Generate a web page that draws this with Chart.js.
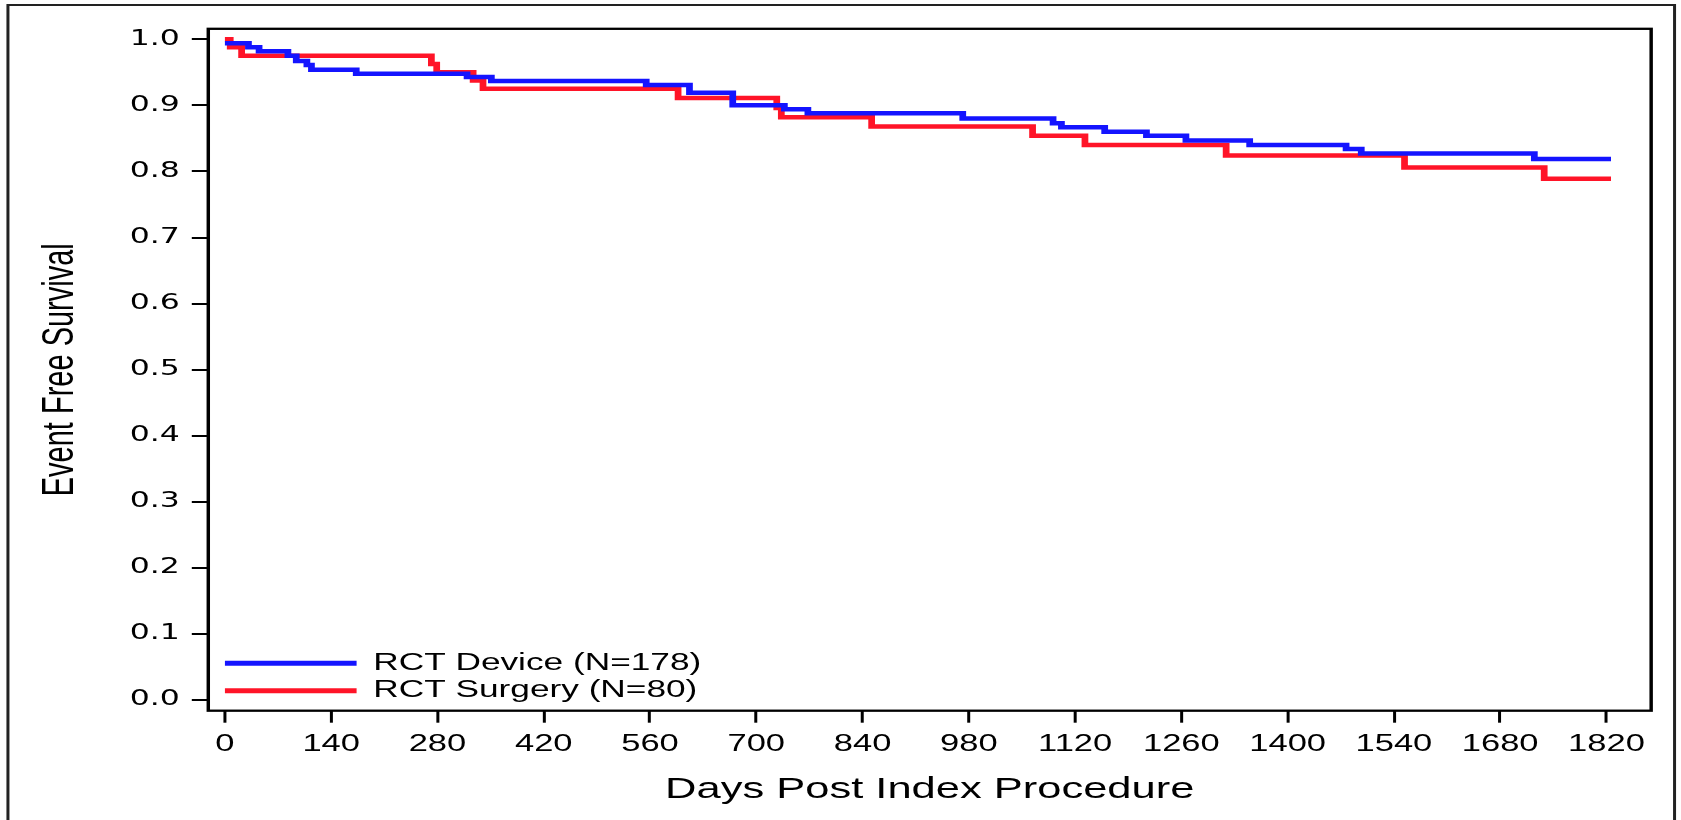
<!DOCTYPE html>
<html>
<head>
<meta charset="utf-8">
<script src="https://cdn.jsdelivr.net/npm/chart.js@4.4.0/dist/chart.umd.min.js"></script>
<style>
  html, body { margin: 0; padding: 0; background: #fff; overflow: hidden; }
  canvas { display: block; }
</style>
</head>
<body>
<canvas id="km" width="1121" height="820" style="width:1681px;height:820px"></canvas>
<script>
// the reference picture is stretched sideways, so the chart is laid out
// 1121 wide and drawn with a horizontal scale onto the 1681 wide canvas
const SX = 1681 / 1121;

// Kaplan-Meier steps: value holds from day[i] until day[i+1]
const deviceDays = [0, 31, 45, 83, 94, 108, 114, 173, 319, 351, 555, 612, 669, 737, 768, 972,
  1091, 1102, 1159, 1214, 1266, 1350, 1477, 1497, 1725, 1826];
const deviceSurv = [0.994, 0.988, 0.982, 0.975, 0.967, 0.961, 0.954, 0.948, 0.943, 0.937, 0.931, 0.919,
  0.900, 0.894, 0.888, 0.880, 0.873, 0.867, 0.860, 0.854, 0.847, 0.840, 0.834, 0.827, 0.819, 0.819];

const surgeryDays = [0, 7, 22, 272, 279, 327, 340, 597, 727, 733, 852, 1064, 1133, 1319, 1554, 1738, 1826];
const surgerySurv = [1.0, 0.988, 0.975, 0.9625, 0.950, 0.9375, 0.925, 0.911, 0.896, 0.882, 0.868,
  0.854, 0.840, 0.824, 0.806, 0.789, 0.789];

const seriesLabels = ['RCT Device (N=178)', 'RCT Surgery (N=80)'];
const seriesColors = ['#1414ff', '#ff1428'];

const xTicks = [0, 140, 280, 420, 560, 700, 840, 980, 1120, 1260, 1400, 1540, 1680, 1820];
const yTicks = [0, 0.1, 0.2, 0.3, 0.4, 0.5, 0.6, 0.7, 0.8, 0.9, 1.0];

const ARIAL = "'Liberation Sans', Arial, Helvetica, sans-serif";

function toPoints(days, vals) {
  return days.map((d, i) => ({ x: d, y: vals[i] }));
}

const stretchPlugin = {
  id: 'stretch',
  beforeDraw(chart) {
    const c = chart.canvas;
    if (c.width !== 1681) c.width = 1681;
    chart.ctx.setTransform(SX, 0, 0, 1, 0, 0);
  }
};

const framePlugin = {
  id: 'frame',
  afterDatasetsDraw(chart) {
    const { ctx, chartArea: a } = chart;
    ctx.save();
    ctx.strokeStyle = '#000';
    ctx.lineWidth = 2.3;
    ctx.strokeRect(a.left, a.top, a.right - a.left, a.bottom - a.top);
    // outer figure border
    ctx.lineWidth = 2;
    ctx.strokeStyle = '#222';
    ctx.strokeRect(5.3, 5, 1111.4, 830);
    ctx.restore();
  },
  afterDraw(chart) {
    // legend inside the plot, lower left
    const ctx = chart.ctx;
    const rows = [663.3, 690.7];
    ctx.save();
    chart.data.datasets.forEach((ds, i) => {
      ctx.strokeStyle = ds.borderColor;
      ctx.lineWidth = 5;
      ctx.beginPath();
      ctx.moveTo(150, rows[i]);
      ctx.lineTo(237.8, rows[i]);
      ctx.stroke();
      ctx.fillStyle = '#000';
      ctx.font = '23.5px ' + ARIAL;
      ctx.textBaseline = 'middle';
      ctx.textAlign = 'left';
      ctx.fillText(ds.label, 248.9, rows[i]);
    });
    ctx.restore();
  }
};

new Chart(document.getElementById('km'), {
  type: 'line',
  data: {
    datasets: [
      {
        label: seriesLabels[0],
        data: toPoints(deviceDays, deviceSurv),
        borderColor: seriesColors[0],
        borderWidth: 4.5,
        stepped: 'before',
        pointRadius: 0,
        fill: false,
        borderJoinStyle: 'miter',
        borderCapStyle: 'butt'
      },
      {
        label: seriesLabels[1],
        data: toPoints(surgeryDays, surgerySurv),
        borderColor: seriesColors[1],
        borderWidth: 4.5,
        stepped: 'before',
        pointRadius: 0,
        fill: false,
        borderJoinStyle: 'miter',
        borderCapStyle: 'butt'
      }
    ]
  },
  options: {
    responsive: false,
    animation: false,
    devicePixelRatio: 1,
    layout: { padding: { top: 28.8, right: 19.9, left: 0, bottom: 0 } },
    plugins: {
      legend: { display: false },
      tooltip: { enabled: false }
    },
    scales: {
      x: {
        type: 'linear',
        min: -21.9,
        max: 1878.9,
        afterBuildTicks: s => { s.ticks = xTicks.map(v => ({ value: v })); },
        afterFit: s => { s.height = 109.3; },
        border: { display: false },
        grid: { drawOnChartArea: false, drawTicks: true, tickLength: 12, color: '#000', lineWidth: 2 },
        ticks: {
          autoSkip: false,
          maxRotation: 0,
          padding: 8.5,
          color: '#000',
          font: { family: ARIAL, size: 23 },
          callback: v => String(v)
        },
        title: {
          display: true,
          text: 'Days Post Index Procedure',
          color: '#000',
          font: { family: ARIAL, size: 29 },
          padding: { top: 0, bottom: 12.6 }
        }
      },
      y: {
        type: 'linear',
        min: -0.0162,
        max: 1.0159,
        afterBuildTicks: s => { s.ticks = yTicks.map(v => ({ value: v })); },
        afterFit: s => { s.width = 138.9; },
        border: { display: false },
        grid: { drawOnChartArea: false, drawTicks: true, tickLength: 11, color: '#000', lineWidth: 2 },
        ticks: {
          padding: 8,
          color: '#000',
          font: { family: "'DejaVu Sans', Verdana, sans-serif", size: 21 },
          callback: v => v.toFixed(1)
        },
        title: {
          display: true,
          text: 'Event Free Survival',
          color: '#000',
          font: { family: ARIAL, size: 29 },
          padding: { top: 23.6, bottom: 0 }
        }
      }
    }
  },
  plugins: [stretchPlugin, framePlugin]
});
</script>
</body>
</html>
